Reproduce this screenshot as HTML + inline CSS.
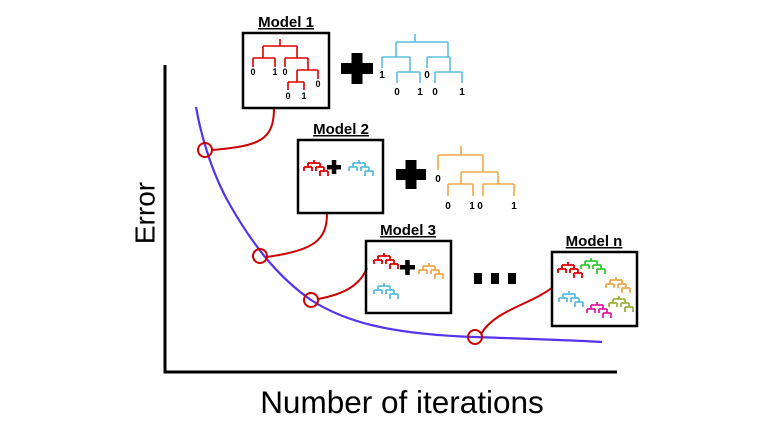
<!DOCTYPE html>
<html><head><meta charset="utf-8"><style>
html,body{margin:0;padding:0;background:#fff;}
svg{display:block;font-family:"Liberation Sans",sans-serif;}
</style></head><body>
<svg width="767" height="428" viewBox="0 0 767 428" xmlns="http://www.w3.org/2000/svg">
<defs>
<path id="st" d="M11,0V3M5,3H17M5,3V7M1,7H9M1,7V11M9,7V11M17,3V7M13,7H21M13,7V11M21,7V11M17,11H25M17,11V16M25,11V16" fill="none" stroke-width="1.8"/>
</defs>
<path d="M165,65V372H617" fill="none" stroke="#000" stroke-width="3"/>
<text x="147" y="213" font-size="28" text-anchor="middle" transform="rotate(-90 147 213)" dominant-baseline="middle">Error</text>
<text x="402" y="413" font-size="31.5" text-anchor="middle">Number of iterations</text>
<path d="M196,107 C200,130 210,170 230,205 C250,240 275,275 311,300 C345,322 390,334 475,337 C530,339 570,340 602,342" fill="none" stroke="#5533ee" stroke-width="2.2"/>
<g fill="none" stroke="#cc0000" stroke-width="2">
<path d="M212,150 C260,146 274,140 274,108"/>
<path d="M267,257 C315,250 327,240 327,213"/>
<path d="M318,299 C345,294 360,285 367,268"/>
<path d="M481,334 C495,310 530,305 553,287"/>
<circle cx="205" cy="150" r="7"/><circle cx="260" cy="256" r="7"/><circle cx="311" cy="300" r="7"/><circle cx="475" cy="337" r="7"/>
</g>
<g fill="none" stroke="#000" stroke-width="2.5">
<rect x="243" y="33" width="86" height="75"/>
<rect x="298" y="140" width="85" height="73"/>
<rect x="366" y="241" width="85" height="72"/>
<rect x="552" y="252" width="85" height="74"/>
</g>
<g font-size="15" font-weight="bold" text-anchor="middle" text-decoration="underline">
<text x="286" y="27">Model 1</text>
<text x="341" y="134">Model 2</text>
<text x="408" y="235">Model 3</text>
<text x="594" y="246">Model n</text>
</g>
<path d="M280,39V46M263,46H297M263,46V58M253,58H275M253,58V67M275,58V67M297,46V58M285,58H308M285,58V67M308,58V70M297,70H318M318,70V79M297,70V82M288,82H304M288,82V90M304,82V90" fill="none" stroke="#dd0000" stroke-width="1.6"/>
<g font-size="9" font-weight="bold" text-anchor="middle">
<text x="253" y="75">0</text><text x="275" y="75">1</text><text x="285" y="75">0</text><text x="318" y="87">0</text><text x="288" y="99">0</text><text x="304" y="99">1</text>
</g>
<rect x="341" y="63" width="32" height="11"/><rect x="351.5" y="53" width="11" height="31"/>
<path d="M415,34V42M396,42H448M396,42V57M382,57H410M382,57V68M410,57V72M397,72H420M397,72V83M420,72V83M448,42V57M427,57H450M427,57V68M450,57V72M435,72H462M435,72V83M462,72V83" fill="none" stroke="#5bbde0" stroke-width="1.6"/>
<g font-size="10" font-weight="bold" text-anchor="middle">
<text x="382" y="78">1</text><text x="427" y="78">0</text><text x="397" y="95">0</text><text x="420" y="95">1</text><text x="435" y="95">0</text><text x="462" y="95">1</text>
</g>
<use href="#st" transform="translate(303,160)" stroke="#dd0000"/>
<rect x="327" y="165" width="14" height="4.5"/><rect x="331.8" y="160" width="4.5" height="14"/>
<use href="#st" transform="translate(348,160)" stroke="#5bbde0"/>
<rect x="396" y="169" width="30" height="11"/><rect x="405.5" y="160" width="11" height="29"/>
<path d="M461,146V155M438,155H483M438,155V170M483,155V172M461,172H498M461,172V184M448,184H473M448,184V196M473,184V196M498,172V184M483,184H514M483,184V196M514,184V196" fill="none" stroke="#f0a848" stroke-width="1.6"/>
<g font-size="10" font-weight="bold" text-anchor="middle">
<text x="438" y="182">0</text><text x="448" y="209">0</text><text x="472" y="209">1</text><text x="480" y="209">0</text><text x="514" y="209">1</text>
</g>
<use href="#st" transform="translate(373,253)" stroke="#dd0000"/>
<rect x="400" y="265" width="15" height="4.5"/><rect x="405.2" y="260" width="4.5" height="15"/>
<use href="#st" transform="translate(418,263)" stroke="#f0a848"/>
<use href="#st" transform="translate(373,283)" stroke="#5bbde0"/>
<rect x="474" y="273" width="8" height="11"/><rect x="491" y="273" width="8" height="11"/><rect x="508" y="273" width="8" height="11"/>
<use href="#st" transform="translate(557,262)" stroke="#dd0000"/>
<use href="#st" transform="translate(580,258)" stroke="#33cc33"/>
<use href="#st" transform="translate(605,277)" stroke="#f0a848"/>
<use href="#st" transform="translate(558,291)" stroke="#5bbde0"/>
<use href="#st" transform="translate(586,302)" stroke="#e020a0"/>
<use href="#st" transform="translate(608,296)" stroke="#a0b040"/>
</svg>
</body></html>
